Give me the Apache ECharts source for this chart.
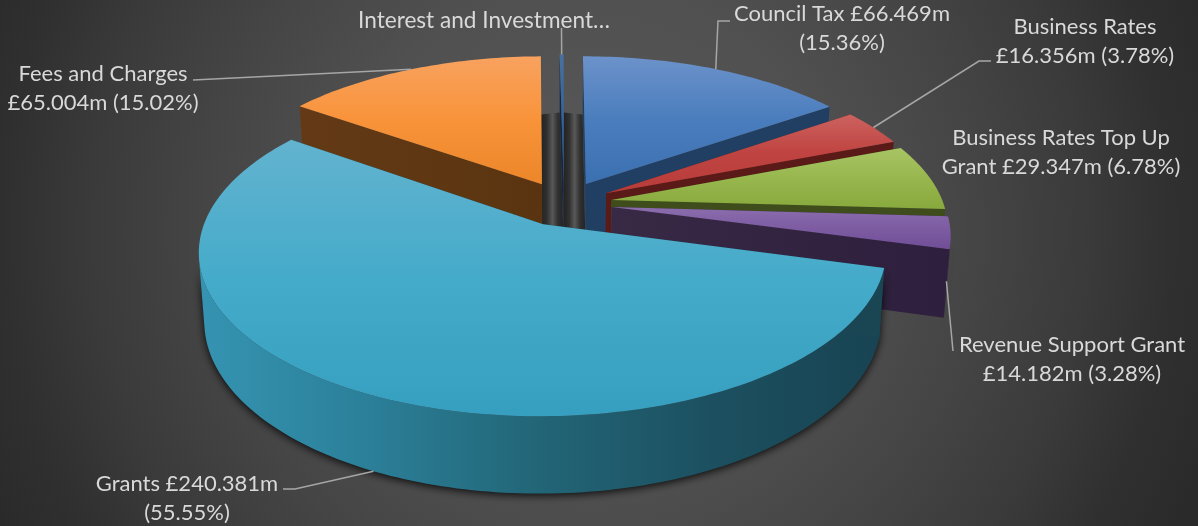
<!DOCTYPE html>
<html>
<head>
<meta charset="utf-8">
<title>Funding sources</title>
<script src="https://cdn.jsdelivr.net/npm/echarts@6/dist/echarts.min.js"></script>
<style>html,body{margin:0;padding:0;background:#333}#chart{width:1198px;height:526px}</style>
</head>
<body>
<div id="chart"></div>
<script>
// Funding sources, £m, clockwise from twelve o'clock
const categories = ['Council Tax', 'Business Rates', 'Business Rates Top Up Grant', 'Revenue Support Grant', 'Grants', 'Fees and Charges', 'Interest and Investment Income'];
const values = [66.469, 16.356, 29.347, 14.182, 240.381, 65.004, 1.0];
const percents = ['15.36', '3.78', '6.78', '3.28', '55.55', '15.02', '0.23'];

// Label text broken into drawn lines, in the same order as the categories
const labelLines = [
  i => [`Council Tax £${amount(i)}m`, `(${percents[i]}%)`],
  i => ['Business Rates', `£${amount(i)}m (${percents[i]}%)`],
  i => ['Business Rates Top Up', `Grant £${amount(i)}m (${percents[i]}%)`],
  i => ['Revenue Support Grant', `£${amount(i)}m (${percents[i]}%)`],
  i => [`Grants £${amount(i)}m`, `(${percents[i]}%)`],
  i => ['Fees and Charges', `£${amount(i)}m (${percents[i]}%)`],
  () => ['Interest and Investment…']
];
function amount(i) { return values[i].toFixed(3); }

// Slice appearance: top face gradient stops, radial wall and rim wall colours
const sliceStyle = [
  { top: ['#6c92ca', '#4a7dbd', '#3b70b0'], wall: ['#213f63', '#213f63'], rim: ['#2f5788', '#1f3a5c'] },
  { top: ['#cc625f', '#bf4340', '#b83c39'], wall: ['#5a1b18', '#5a1b18'], rim: ['#7a2624', '#561a18'] },
  { top: ['#a8c464', '#97b74e', '#88a93d'], wall: ['#3e4d1b', '#3e4d1b'], rim: ['#56691f', '#3e4d1b'] },
  { top: ['#8b6dad', '#7d5ca2', '#714e97'], wall: ['#382a45', '#2d1f3d'], rim: ['#33243f', '#2e203d'] },
  { top: ['#62b3cf', '#45abca', '#369fbf'], wall: ['#1a4553', '#1a4553'], rim: ['#3594b2', '#2b7f98', '#226576', '#1c5060', '#184352'] },
  { top: ['#f8a25f', '#f9933a', '#ec8629'], wall: ['#643a16', '#5a3410'], rim: ['#6b3e17', '#5a3410'] },
  { top: ['#47719f', '#33639c', '#234a78'], wall: ['#14273f', '#14273f'], rim: ['#1c3350', '#14273f'] }
];
const shadowedSlices = [3, 4];

// Label anchors: text centre, leader elbow points and the height on the slice the leader meets
const labelLayout = [
  { x: 842, y: 28, size: 22, elbow: [[730, 21], [718, 21]], z: 0 },
  { x: 1085, y: 41, size: 22, elbow: [[991, 61], [979, 61]], z: 0 },
  { x: 1061, y: 152, size: 22, elbow: null, z: 0 },
  { x: 1072, y: 359, size: 22, elbow: [[953, 351]], z: -0.72 },
  { x: 187, y: 498, size: 22, elbow: [[283, 489], [295, 489]], z: -1 },
  { x: 103, y: 88, size: 22, elbow: [[193, 80]], z: 0 },
  { x: 484, y: 21, size: 22.6, elbow: [[561.5, 28]], z: 0 }
];

// Pinhole-style view of a flat pie lying on a table
const view = { cx: 564, cy: 203.5, rx: 332, ry: 154, persp: 0.16, height: 66, taper: 0.985, explode: 0.145 };

const total = values.reduce((a, b) => a + b, 0);
const slices = [];
let running = 0;
values.forEach((v, i) => {
  const start = running / total * Math.PI * 2;
  running += v;
  const end = running / total * Math.PI * 2;
  slices.push({ index: i, start, end, mid: (start + end) / 2 });
});

function project(slice, radius, angle, z) {
  const wx = view.explode * Math.sin(slice.mid) + radius * Math.sin(angle);
  const wy = view.explode * Math.cos(slice.mid) + radius * Math.cos(angle);
  const s = 1 / (1 + view.persp * wy) * (z < 0 ? 1 + (view.taper - 1) * -z : 1);
  return [
    view.cx + view.rx * wx * s,
    view.cy - view.ry * wy * s - view.height * z / (1 + view.persp * wy)
  ];
}

function arcPoints(slice, z) {
  const steps = Math.max(2, Math.ceil((slice.end - slice.start) / 0.02));
  const pts = [];
  for (let k = 0; k <= steps; k++) {
    pts.push(project(slice, 1, slice.start + (slice.end - slice.start) * k / steps, z));
  }
  return pts;
}

// The part of the rim ribbon that faces the viewer, as one closed outline
function frontRim(top, bottom) {
  const keep = [];
  for (let k = 0; k < top.length - 1; k++) {
    const ax = top[k + 1][0] - top[k][0], ay = top[k + 1][1] - top[k][1];
    const bx = bottom[k][0] - top[k][0], by = bottom[k][1] - top[k][1];
    if (ax * by - ay * bx < 0) keep.push(k);
  }
  if (!keep.length) return null;
  const first = keep[0], last = keep[keep.length - 1] + 1;
  return top.slice(first, last + 1).concat(bottom.slice(first, last + 1).reverse());
}

function linear(colors, horizontal) {
  return {
    type: 'linear', x: 0, y: 0, x2: horizontal ? 1 : 0, y2: horizontal ? 0 : 1,
    colorStops: colors.map((color, k) => ({ offset: k / (colors.length - 1), color }))
  };
}

const dropShadow = { shadowColor: 'rgba(0,0,0,0.85)', shadowBlur: 8, shadowOffsetX: 0, shadowOffsetY: 2 };

function poly(points, style) {
  return { type: 'polygon', shape: { points }, style };
}

// One slice: radial walls and rim first, then the top face over them
function drawSlice(slice) {
  const st = sliceStyle[slice.index];
  const top = arcPoints(slice, 0);
  const bottom = arcPoints(slice, -1);
  const apexTop = project(slice, 0, 0, 0);
  const apexBottom = project(slice, 0, 0, -1);
  const kids = [];
  const rim = frontRim(top, bottom);
  if (rim) {
    const rimStyle = { fill: linear(st.rim, true) };
    if (shadowedSlices.includes(slice.index)) Object.assign(rimStyle, dropShadow);
    kids.push(poly(rim, rimStyle));
  }
  kids.push(poly([apexTop, top[0], bottom[0], apexBottom], { fill: linear(st.wall, true) }));
  kids.push(poly([apexTop, top[top.length - 1], bottom[bottom.length - 1], apexBottom], { fill: linear(st.wall, true) }));
  kids.push(poly([apexTop].concat(top), { fill: linear(st.top, false) }));
  return kids;
}

// Dark floor shading seen through the gaps between neighbouring back slices
function drawGap(a, b) {
  const pa = project(a, 1, a.end, -1);
  const qa = project(a, 0, 0, -1);
  const pb = project(b, 1, b.start, -1);
  const qb = project(b, 0, 0, -1);
  return poly([pa, pb, qb, qa], { fill: linear(['#232323', '#303030', '#585858', '#303030', '#232323'], true) });
}

// Back-to-front painting order
const paintOrder = [6, 5, 0, 1, 2, 3, 4];

function drawLabel(i) {
  const slice = slices[i];
  const layout = labelLayout[i];
  const kids = [];
  if (layout.elbow) {
    const anchor = project(slice, 1, slice.mid, layout.z);
    kids.push({
      type: 'polyline',
      shape: { points: [anchor].concat(layout.elbow.slice().reverse()) },
      style: { stroke: '#a6a6a6', lineWidth: 1.5, fill: 'none' }
    });
  }
  kids.push({
    type: 'text',
    style: {
      x: layout.x, y: layout.y,
      text: labelLines[i](i).join('\n'),
      fill: '#d9d9d9', font: layout.size + 'px Lato', align: 'center', verticalAlign: 'middle', lineHeight: 29
    }
  });
  return kids;
}

const chart = echarts.init(document.getElementById('chart'), null, { renderer: 'canvas' });
chart.setOption({
  animation: false,
  backgroundColor: {
    type: 'radial', x: 0.492, y: 0.437, r: 1.255,
    colorStops: [
      { offset: 0, color: '#5a5a5a' },
      { offset: 0.38, color: '#505050' },
      { offset: 0.6, color: '#444444' },
      { offset: 0.76, color: '#3a3a3a' },
      { offset: 0.88, color: '#303030' },
      { offset: 1, color: '#2a2a2a' }
    ]
  },
  series: [{
    type: 'custom',
    coordinateSystem: 'none',
    silent: true,
    data: categories.map((name, i) => ({ name, value: values[i] })),
    renderItem(params) {
      if (params.dataIndex !== 0) return null;
      const children = [];
      children.push(drawGap(slices[5], slices[6]));
      children.push(drawGap(slices[6], { mid: slices[0].mid, start: 0, end: 0 }));
      paintOrder.forEach(i => children.push(...drawSlice(slices[i])));
      categories.forEach((_, i) => children.push(...drawLabel(i)));
      return { type: 'group', children };
    }
  }]
});
</script>
</body>
</html>
